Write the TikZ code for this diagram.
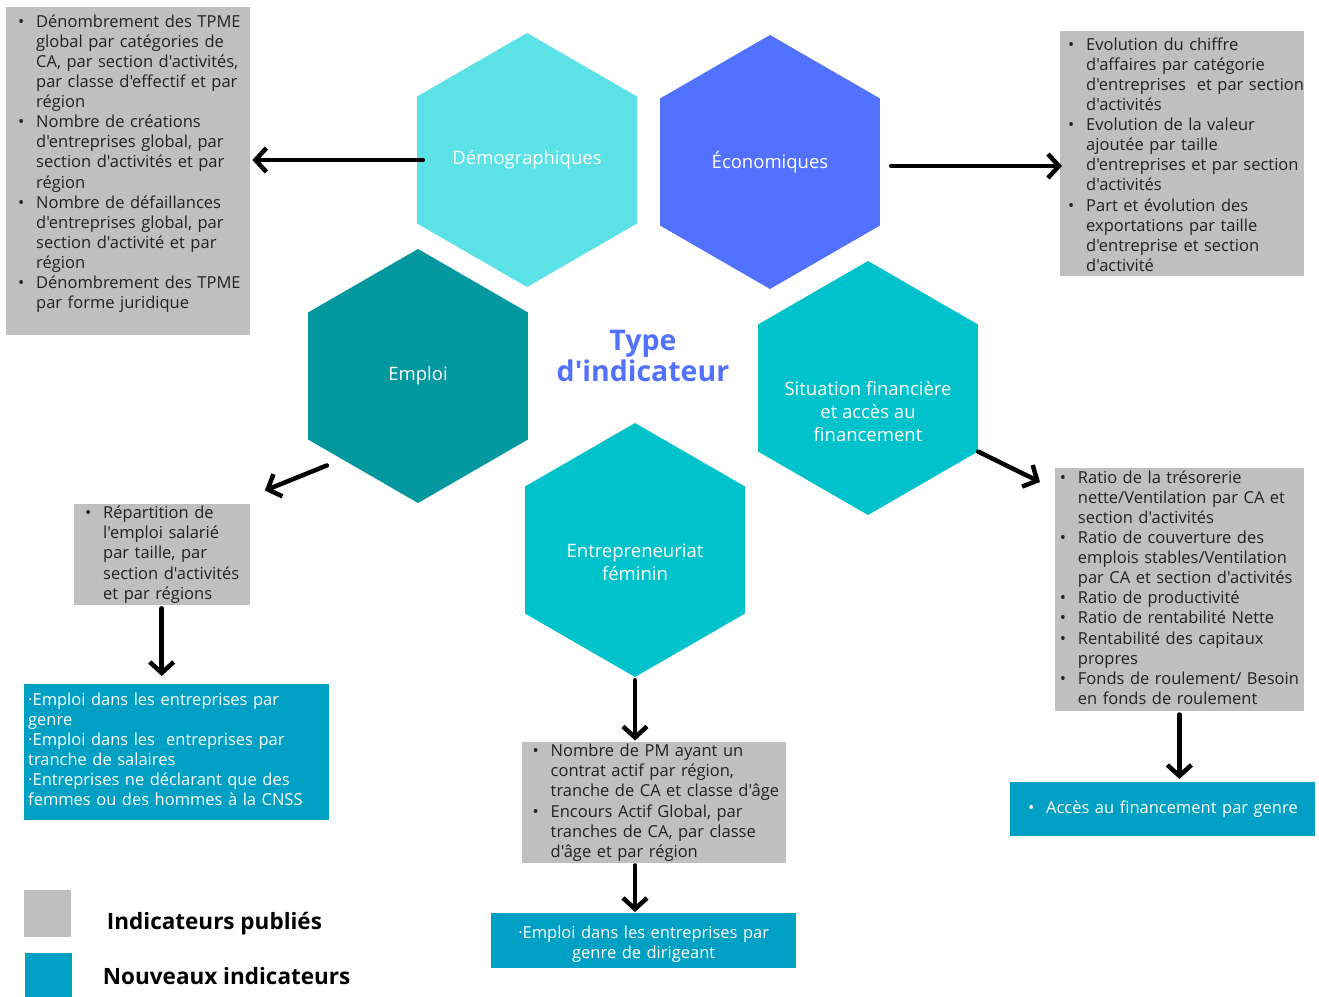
\documentclass[tikz,border=0pt]{standalone}
\usepackage{fontspec}
\newfontfamily\osans{Open Sans}
\usetikzlibrary{shapes.geometric, arrows.meta, positioning, calc}

\definecolor{demoCyan}{HTML}{5CE1E6}
\definecolor{ecoBlue}{HTML}{5271FF}
\definecolor{empTeal}{HTML}{03989E}
\definecolor{finCyan}{HTML}{00C2CB}
\definecolor{pubGray}{HTML}{BFBFBF}
\definecolor{newBlue}{HTML}{00A0C4}
\definecolor{txtGray}{HTML}{222222}

\newcommand{\bul}[1]{\mbox{\makebox[18pt][l]{\textbullet}#1}}
\newcommand{\ind}[1]{\mbox{\hspace*{18pt}#1}}
\newcommand{\topgap}[1]{\rule{0pt}{#1pt}}
\newcommand{\botgap}[1]{\rule[-#1pt]{0pt}{#1pt}}

\begin{document}
\begin{tikzpicture}[x=1pt, y=-1pt,
  hexa/.style={regular polygon, regular polygon sides=6, shape border rotate=30, minimum size=254pt, inner sep=0pt, fill=#1, text=white, align=center, font=\osans\fontsize{18.5}{23}\selectfont},
  hexlbl/.style={text=white, align=center, font=\osans\fontsize{18.5}{23}\selectfont},
  pubbox/.style={anchor=north west, fill=pubGray, text=txtGray, align=left, inner ysep=0pt, font=\osans\fontsize{16.5}{20.1}\selectfont},
  newbox/.style={anchor=north west, fill=newBlue, text=white, inner ysep=0pt, font=\osans\fontsize{16.5}{20.1}\selectfont},
  arrow/.style={-{Straight Barb[length=11pt, width=24pt]}, line width=4.5pt, line cap=round},
  legsq/.style={anchor=north west, minimum size=47pt, inner sep=0pt},
  legtxt/.style={anchor=west, font=\osans\bfseries\fontsize{22.5}{26}\selectfont},
  title/.style={text=ecoBlue, align=center, font=\osans\bfseries\fontsize{28.5}{31}\selectfont}
]
  \useasboundingbox (0,0) rectangle (1319,996);

  % hexagons
  \node[hexa=demoCyan] (demo) at (527,160) {Démographiques};
  \node[hexa=ecoBlue] (eco) at (770,162) {Économiques};
  \node[hexa=empTeal] (emp) at (418,376) {Emploi};
  \node[hexa=finCyan, label={[hexlbl, yshift=-23pt]center:Situation financière\\et accès au\\financement}] (fin) at (868,388) {};
  \node[hexa=finCyan, label={[hexlbl, yshift=-12pt]center:Entrepreneuriat\\féminin}] (fem) at (635,550) {};
  \node[title] (type) at (643,356) {Type\\d'indicateur};

  % indicateurs publies
  \node[pubbox, text width=220pt, inner xsep=12pt] (gdemo) at (6,7) {%
    \topgap{20}\bul{Dénombrement des TPME}\\
    \ind{global par catégories de}\\
    \ind{CA, par section d'activités,}\\
    \ind{par classe d'effectif et par}\\
    \ind{région}\\
    \bul{Nombre de créations}\\
    \ind{d'entreprises global, par}\\
    \ind{section d'activités et par}\\
    \ind{région}\\
    \bul{Nombre de défaillances}\\
    \ind{d'entreprises global, par}\\
    \ind{section d'activité et par}\\
    \ind{région}\\
    \bul{Dénombrement des TPME}\\
    \ind{par forme juridique}\botgap{26}};
  \node[pubbox, text width=228pt, inner xsep=8pt] (geco) at (1060,31) {%
    \topgap{19}\bul{Evolution du chiffre}\\
    \ind{d'affaires par catégorie}\\
    \ind{d'entreprises \ et par section}\\
    \ind{d'activités}\\
    \bul{Evolution de la valeur}\\
    \ind{ajoutée par taille}\\
    \ind{d'entreprises et par section}\\
    \ind{d'activités}\\
    \bul{Part et évolution des}\\
    \ind{exportations par taille}\\
    \ind{d'entreprise et section}\\
    \ind{d'activité}\botgap{5}};
  \node[pubbox, text width=153pt, inner xsep=11.5pt] (gemp) at (73.5,503.5) {%
    \topgap{15}\bul{Répartition de}\\
    \ind{l'emploi salarié}\\
    \ind{par taille, par}\\
    \ind{section d'activités}\\
    \ind{et par régions}\botgap{6}};
  \node[pubbox, text width=239pt, inner xsep=4.7pt] (gfin) at (1055,468) {%
    \topgap{15}\bul{Ratio de la trésorerie}\\
    \ind{nette/Ventilation par CA et}\\
    \ind{section d'activités}\\
    \bul{Ratio de couverture des}\\
    \ind{emplois stables/Ventilation}\\
    \ind{par CA et section d'activités}\\
    \bul{Ratio de productivité}\\
    \bul{Ratio de rentabilité Nette}\\
    \bul{Rentabilité des capitaux}\\
    \ind{propres}\\
    \bul{Fonds de roulement/ Besoin}\\
    \ind{en fonds de roulement}\botgap{7}};
  \node[pubbox, text width=242pt, inner xsep=11pt] (gfem) at (521.5,741.5) {%
    \topgap{15}\bul{Nombre de PM ayant un}\\
    \ind{contrat actif par région,}\\
    \ind{tranche de CA et classe d'âge}\\
    \bul{Encours Actif Global, par}\\
    \ind{tranches de CA, par classe}\\
    \ind{d'âge et par région}\botgap{6}};

  % nouveaux indicateurs
  \node[newbox, text width=297pt, inner xsep=4pt, align=left] (bemp) at (24,684) {%
    \topgap{21}·Emploi dans les entreprises par\\
    genre\\
    ·Emploi dans les \ entreprises par\\
    tranche de salaires\\
    ·Entreprises ne déclarant que des\\
    femmes ou des hommes à la CNSS\botgap{14}};
  \node[newbox, text width=297pt, inner xsep=4pt, align=center] (bfem) at (491,913) {%
    \topgap{25}·Emploi dans les entreprises par\\
    genre de dirigeant\botgap{10}};
  \node[newbox, text width=269pt, inner xsep=18pt, align=left] (bfin) at (1010,782) {%
    \topgap{31}\bul{Accès au financement par genre}\botgap{23}};

  % legende
  \node[legsq, fill=pubGray] (legpub) at (24,890) {};
  \node[legsq, fill=newBlue] (legnew) at (25,953) {};
  \node[legtxt, right=32pt of legpub, yshift=-10pt] (txtpub) {Indicateurs publiés};
  \node[legtxt, right=27pt of legnew, yshift=1pt] (txtnew) {Nouveaux indicateurs};

  % fleches
  \draw[arrow] ([xshift=6pt]demo.west) -- ([xshift=2pt]demo.west -| gdemo.east);
  \draw[arrow] ([shift={(11,4)}]eco.east) -- ([shift={(2,4)}]eco.east -| geco.west);
  \draw[arrow] ([shift={(-36,-6)}]emp.240) -- ([shift={(15,-13)}]gemp.north east);
  \draw[arrow] (fin.330) -- ([shift={(-15,14)}]gfin.north west);
  \draw[arrow] ([yshift=-3pt]gemp.south) -- ([yshift=8pt]gemp.south |- bemp.north);
  \draw[arrow] ([yshift=-3pt]fem.south) -- ([yshift=1pt]fem.south |- gfem.north);
  \draw[arrow] ([yshift=-2pt]fem.south |- gfem.south) -- ([yshift=1pt]fem.south |- bfem.north);
  \draw[arrow] ([yshift=-3pt]gfin.south) -- ([yshift=3pt]gfin.south |- bfin.north);
\end{tikzpicture}
\end{document}
